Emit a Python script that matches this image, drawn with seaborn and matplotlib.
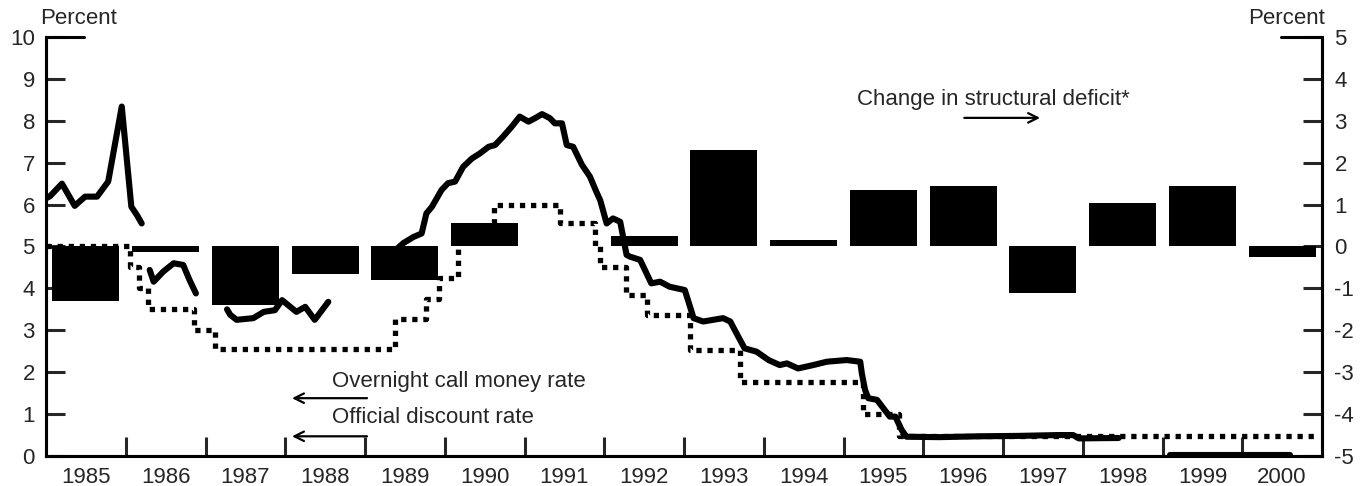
import numpy as np
import pandas as pd
import seaborn as sns
import matplotlib.pyplot as plt

# change in structural deficit by year (right axis, percent)
deficit_year = list(range(1985, 2001))
deficit_change = [-1.3, -0.13, -1.4, -0.65, -0.8, 0.55, 0.0, 0.25,
                  2.3, 0.15, 1.35, 1.45, -1.1, 1.05, 1.45, -0.25]

# overnight call money rate (left axis);
# the line has breaks, so each piece gets its own segment id
call_year = [1985.0, 1985.05, 1985.2, 1985.36, 1985.49, 1985.64, 1985.78, 1985.95, 1986.07, 1986.14, 1986.2,
             1986.3, 1986.35, 1986.47, 1986.6, 1986.72, 1986.8, 1986.88,
             1987.27, 1987.31, 1987.39, 1987.6, 1987.73, 1987.87, 1987.96, 1988.14, 1988.25, 1988.37, 1988.54,
             1989.2, 1989.48, 1989.61, 1989.71, 1989.77, 1989.84, 1989.96, 1990.04, 1990.13, 1990.23,
             1990.34, 1990.44, 1990.55, 1990.63, 1990.73, 1990.84, 1990.94, 1991.05, 1991.13, 1991.22,
             1991.32, 1991.38, 1991.47, 1991.53, 1991.61, 1991.72, 1991.82, 1991.9, 1991.95, 1992.03,
             1992.11, 1992.2, 1992.28, 1992.32, 1992.45, 1992.59, 1992.7, 1992.82, 1993.01, 1993.05,
             1993.12, 1993.24, 1993.49, 1993.58, 1993.68, 1993.76, 1993.91, 1994.06, 1994.2, 1994.29,
             1994.43, 1994.62, 1994.79, 1995.04, 1995.21, 1995.23, 1995.27, 1995.31, 1995.42, 1995.5,
             1995.58, 1995.65, 1995.73, 1995.79, 1996.2, 1996.7, 1997.2, 1997.7, 1997.88, 1997.95, 1998.45,
             1999.1, 2000.6]
call_rate = [6.15, 6.2, 6.5, 5.97, 6.19, 6.19, 6.55, 8.34, 5.95, 5.75, 5.55,
             4.44, 4.16, 4.4, 4.6, 4.56, 4.2, 3.88,
             3.5, 3.37, 3.25, 3.29, 3.44, 3.48, 3.72, 3.44, 3.56, 3.25, 3.68,
             4.6, 5.08, 5.23, 5.31, 5.79, 5.95, 6.35, 6.51, 6.55, 6.9,
             7.1, 7.22, 7.38, 7.42, 7.62, 7.86, 8.1, 7.98, 8.06, 8.16,
             8.06, 7.94, 7.94, 7.42, 7.38, 6.95, 6.67, 6.31, 6.1, 5.55,
             5.67, 5.59, 4.8, 4.76, 4.68, 4.12, 4.16, 4.04, 3.96, 3.72,
             3.29, 3.21, 3.29, 3.21, 2.85, 2.57, 2.49, 2.29, 2.17, 2.21,
             2.09, 2.17, 2.25, 2.29, 2.25, 1.97, 1.58, 1.38, 1.34, 1.14,
             0.94, 0.94, 0.62, 0.46, 0.45, 0.47, 0.48, 0.5, 0.5, 0.42, 0.43,
             0.03, 0.03]
call_seg = [0] * 11 + [1] * 7 + [2] * 11 + [3] * 71 + [4] * 2

# official discount rate: date of each change and new level
disc_year = [1985.0, 1986.05, 1986.17, 1986.28, 1986.85, 1987.12, 1989.38, 1989.77, 1989.93, 1990.17,
             1990.62, 1991.45, 1991.88, 1991.95, 1992.27, 1992.53, 1993.08, 1993.7, 1995.25, 1995.7, 2000.95]
disc_rate = [5.0, 4.5, 4.0, 3.5, 3.0, 2.55, 3.27, 3.75, 4.25, 5.25,
             6.0, 5.55, 5.0, 4.5, 3.84, 3.37, 2.53, 1.77, 1.0, 0.48, 0.48]

call = pd.DataFrame({"year": call_year, "rate": call_rate, "seg": call_seg})
disc = pd.DataFrame({"year": disc_year, "rate": disc_rate})
deficit = pd.DataFrame({"mid": np.array(deficit_year) + 0.5, "change": deficit_change})

sns.set_theme(style="white")
plt.rcParams["font.family"] = ["Liberation Sans", "DejaVu Sans"]
plt.rcParams["axes.unicode_minus"] = False

fig = plt.figure(figsize=(13.64, 4.86), dpi=100)
ax = fig.add_axes([46 / 1364, 1 - 456 / 486, 1276 / 1364, 419 / 486])
ax2 = ax.twinx()

# rates on the left axis
sns.lineplot(data=call, x="year", y="rate", units="seg", estimator=None,
             color="black", linewidth=4.4, sort=False, ax=ax)
sns.lineplot(data=disc, x="year", y="rate", color="black", linewidth=3.8,
             drawstyle="steps-post", linestyle=(0, (1.0, 1.1)), ax=ax)

# structural deficit bars on the right axis (drawn on top)
sns.barplot(data=deficit, x="mid", y="change", native_scale=True, width=0.84,
            color="black", saturation=1, edgecolor="black", linewidth=0, ax=ax2)

ax.set_xlim(1985, 2001)
ax.set_ylim(0, 10)
ax2.set_ylim(-5, 5)

for a in (ax, ax2):
    a.set_xlabel("")
    a.set_ylabel("")
    for s in a.spines.values():
        s.set_linewidth(2.2)
        s.set_color("black")
    a.spines["top"].set_visible(False)

ax.set_yticks(range(0, 11))
ax2.set_yticks(range(-5, 6))
ax.tick_params(axis="y", direction="in", length=13.5, width=2.2, labelsize=16, pad=8, left=True)
ax2.tick_params(axis="y", direction="in", length=14, width=2.2, labelsize=16, pad=9, right=True)

# year boundaries as ticks, labels in the middle of each year
ax.set_xticks(range(1986, 2001))
ax.set_xticklabels([])
ax.set_xticks(np.array(deficit_year) + 0.5, minor=True)
ax.set_xticklabels([str(y) for y in deficit_year], minor=True)
ax.tick_params(axis="x", which="major", direction="in", length=13.5, width=2.2, bottom=True)
ax.tick_params(axis="x", which="minor", length=0, labelsize=16, pad=8, bottom=True)
ax2.tick_params(axis="x", which="both", bottom=False, labelbottom=False)

# longer top ticks
ax.axhline(10, xmin=0, xmax=0.03, color="black", lw=2.2, clip_on=False)
ax2.axhline(5, xmin=0.968, xmax=1, color="black", lw=2.2, clip_on=False)

fig.text(40 / 1364, 1 - 19 / 486, "Percent", fontsize=16, ha="left", va="center")
fig.text(1325 / 1364, 1 - 19 / 486, "Percent", fontsize=16, ha="right", va="center")

arrow = dict(arrowstyle="->", color="black", lw=1.6, mutation_scale=17)
ax.text(1988.58, 1.77, "Overnight call money rate", fontsize=16, ha="left", va="center")
ax.annotate("", xy=(1988.05, 1.38), xytext=(1989.06, 1.38), arrowprops=arrow)
ax.text(1988.58, 0.91, "Official discount rate", fontsize=16, ha="left", va="center")
ax.annotate("", xy=(1988.05, 0.47), xytext=(1989.06, 0.47), arrowprops=arrow)
ax.text(1995.17, 8.5, "Change in structural deficit*", fontsize=16, ha="left", va="center")
ax.annotate("", xy=(1997.5, 8.07), xytext=(1996.48, 8.07), arrowprops=arrow)

fig.savefig("out.png", dpi=100)
